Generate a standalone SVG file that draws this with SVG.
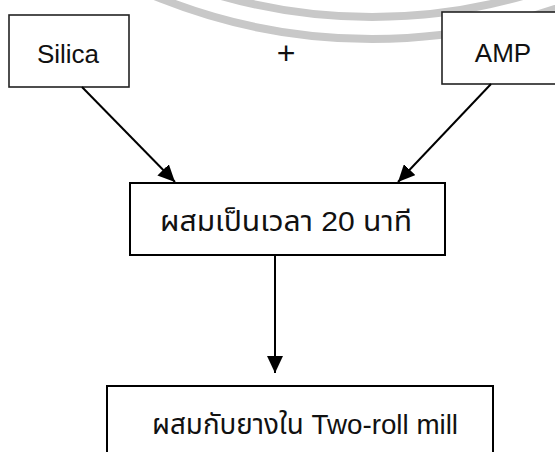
<svg xmlns="http://www.w3.org/2000/svg" width="555" height="452" viewBox="0 0 555 452">
  <style>
    .box { fill: #ffffff; stroke: #000000; stroke-width: 2; }
    .box-top { fill: #ffffff; stroke: #222222; stroke-width: 1.6; }
    .label { font-family: "Liberation Sans", "Noto Sans Thai", "Noto Sans", "DejaVu Sans", sans-serif; font-size: 26px; fill: #111111; text-anchor: middle; }
    .thai { font-size: 28px; }
    .conn { stroke: #000000; stroke-width: 2; fill: none; marker-end: url(#arrow); }
    .wm { fill: none; stroke: #c8c8c8; stroke-width: 8; }
  </style>
  <defs>
    <marker id="arrow" markerUnits="userSpaceOnUse" markerWidth="18" markerHeight="16" refX="17" refY="8" orient="auto">
      <path d="M0,0 L17,8 L0,16 Z" fill="#000000"/>
    </marker>
  </defs>
  <rect width="555" height="452" fill="#ffffff"/>
  <g id="watermark">
    <circle class="wm" cx="372" cy="-533" r="572"/>
    <circle class="wm" cx="372" cy="-533" r="550"/>
  </g>
  <g id="silica">
    <rect class="box-top" x="9" y="15" width="120" height="72"/>
    <text class="label" x="68" y="63">Silica</text>
  </g>
  <g id="plus">
    <text class="label" x="286" y="64" style="font-size:32px">+</text>
  </g>
  <g id="amp">
    <rect class="box-top" x="442" y="12" width="125" height="72"/>
    <text class="label" x="503" y="62">AMP</text>
  </g>
  <g id="mix20">
    <rect class="box" x="130" y="183" width="315" height="72"/>
    <text class="label thai" x="286" y="231" textLength="252" lengthAdjust="spacingAndGlyphs">ผสมเป็นเวลา 20 นาที</text>
  </g>
  <g id="tworoll">
    <rect class="box" x="107" y="386" width="386" height="80"/>
    <text class="label thai" x="305" y="434" textLength="306" lengthAdjust="spacingAndGlyphs">ผสมกับยางใน Two-roll mill</text>
  </g>
  <g id="connectors">
    <line class="conn" x1="82" y1="87" x2="175" y2="182"/>
    <line class="conn" x1="491" y1="84" x2="398" y2="182"/>
    <line class="conn" x1="275" y1="255" x2="275" y2="373"/>
  </g>
</svg>
